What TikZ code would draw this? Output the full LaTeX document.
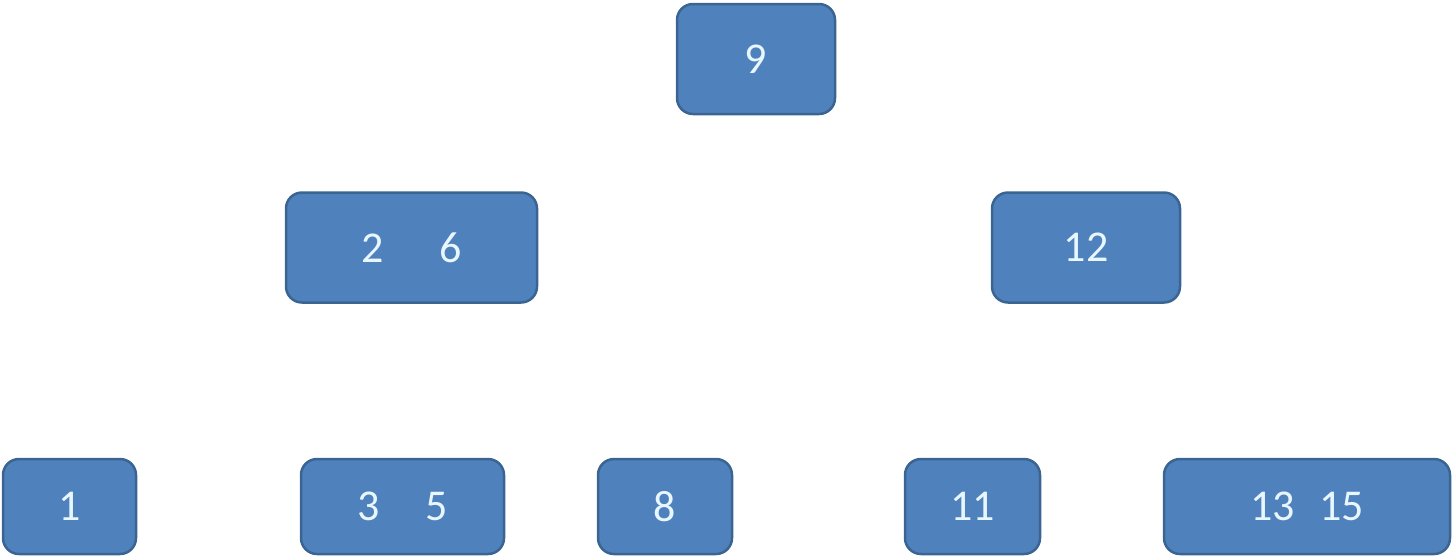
\documentclass[tikz,border=0pt]{standalone}
\usepackage{fontspec}
\setmainfont{Carlito}
\usepackage{tikz}
\usetikzlibrary{positioning}
\definecolor{keyfill}{HTML}{4F81BD}
\definecolor{keydraw}{HTML}{3A6592}
\definecolor{keytext}{HTML}{E8F6FF}
\tikzset{
  mykey/.style={
    draw=keydraw,
    fill=keyfill,
    shape=rectangle,
    line width=2.5pt,
    rounded corners=16pt,
    align=center,
    inner sep=0pt,
    text=keytext,
    font=\fontsize{44}{50}\selectfont,
    minimum height=110pt,
  },
  mysmallkey/.style={
    mykey,
    minimum height=95pt,
  }
}

\begin{document}
\begin{tikzpicture}[x=1pt,y=-1pt]
    \useasboundingbox (0,0) rectangle (1454,558);
    \node[mykey, minimum width=158pt]      (root)  at (756,59)     {9};
    \node[mykey, minimum width=251pt]      (left)  at (411.5,247.5) {2\hspace{56pt}6};
    \node[mykey, minimum width=188pt]      (right) at (1086,247.5) {12};
    \node[mysmallkey, minimum width=133pt] (one)   at (69.5,506.5) {1};
    \node[mysmallkey, minimum width=203pt] (three) at (402.5,506.5) {3\hspace{46pt}5};
    \node[mysmallkey, minimum width=134pt] (eight) at (665,506.5)  {8};
    \node[mysmallkey, minimum width=135pt] (eleven) at (972.5,506.5) {11};
    \node[mysmallkey, minimum width=286pt] (last)  at (1307,506.5) {13\hspace{24pt}15};
  \end{tikzpicture}
\end{document}
